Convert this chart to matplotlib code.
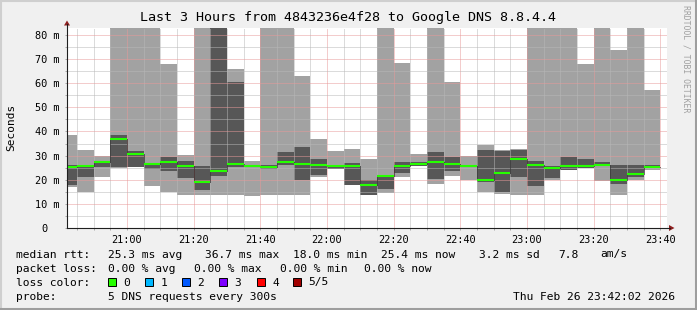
import matplotlib
matplotlib.use("Agg")
import matplotlib.pyplot as plt
from matplotlib.patches import Rectangle, Polygon
from matplotlib.lines import Line2D

W, H, DPI = 697, 310, 100
MONO = "DejaVu Sans Mono"

# time in minutes after 20:00, graph covers 20:42:02 .. 23:42:02
t_start = 42.03
t_end = 222.03
# one slot per probe round (300s), first one cut by the graph start
slot_edges = [t_start] + list(range(45, 225, 5))

# rtt in ms per slot: min, 2nd, median, 4th, max of the 5 pings
# (values above the top of the graph are clipped, they are just "big")
rtt_min = [16.9, 14.8, 21.0, 24.9, 25.2, 17.3, 15.1, 13.8, 13.6, 13.8, 13.6, 13.1,
           13.6, 13.8, 13.6, 21.0, 24.3, 17.7, 13.6, 14.5, 21.0, 25.6, 18.1, 21.4,
           19.8, 15.1, 14.0, 13.6, 13.6, 20.1, 23.9, 24.8, 19.4, 13.6, 20.1, 23.9]
rtt_p2 = [17.7, 21.0, 25.2, 25.2, 25.2, 24.3, 23.5, 20.7, 15.9, 21.4, 25.2, 25.2,
          24.3, 26.0, 20.1, 22.1, 24.5, 17.7, 13.6, 16.3, 22.7, 25.6, 20.3, 23.5,
          25.2, 19.1, 15.1, 21.0, 17.3, 20.7, 24.2, 24.8, 25.6, 18.1, 21.0, 25.2]
rtt_med = [25.2, 25.6, 27.2, 36.7, 30.7, 26.4, 27.2, 25.6, 18.9, 23.8, 26.7, 25.6,
           25.2, 27.2, 26.7, 26.0, 25.6, 25.6, 18.0, 21.4, 25.6, 26.7, 27.2, 26.4,
           25.6, 20.1, 22.7, 28.5, 26.0, 24.7, 25.6, 25.6, 26.0, 19.8, 22.3, 25.4]
rtt_p4 = [26.0, 26.0, 27.5, 38.7, 32.1, 27.0, 29.3, 27.7, 25.6, 95.0, 60.7, 26.0,
          26.1, 31.7, 33.5, 28.4, 25.8, 27.0, 20.1, 22.1, 27.5, 27.2, 31.7, 29.3,
          25.9, 32.5, 32.1, 32.5, 27.9, 25.9, 29.3, 28.4, 27.5, 26.0, 26.0, 26.0]
rtt_max = [38.7, 32.5, 29.7, 120.0, 120.0, 120.0, 67.8, 30.2, 120.0, 120.0, 66.1, 27.9,
           120.0, 120.0, 63.2, 36.7, 32.1, 32.9, 28.4, 120.0, 68.2, 30.8, 120.0, 60.7,
           29.7, 34.6, 32.4, 32.8, 120.0, 120.0, 120.0, 67.8, 120.0, 73.6, 120.0, 57.4]

x_major = [60, 80, 100, 120, 140, 160, 180, 200, 220]
x_labels = ["21:00", "21:20", "21:40", "22:00", "22:20", "22:40", "23:00", "23:20", "23:40"]
y_major = [0, 10, 20, 30, 40, 50, 60, 70, 80]
y_labels = ["0  ", "10 m", "20 m", "30 m", "40 m", "50 m", "60 m", "70 m", "80 m"]

loss_names = ["0", "1", "2", "3", "4", "5/5"]
loss_colors = ["#26ff00", "#00b8ff", "#0059ff", "#7e00ff", "#ff0000", "#a10000"]

LIGHT = "#a2a2a2"
DARK = "#575757"
GRID = "#b8b8b8"
MGRID = "#e89a9a"


def fx(x):
    return x / W


def fy(y):
    return 1 - y / H


fig = plt.figure(figsize=(W / DPI, H / DPI), dpi=DPI, facecolor="#f0f0f0")
ax = fig.add_axes([fx(67), fy(228), 600 / W, 200 / H])
ax.set_facecolor("white")
ax.set_xlim(t_start, t_end)
ax.set_ylim(0, 82.9)
for s in ax.spines.values():
    s.set_visible(False)

# smoke
ax.fill_between(slot_edges, rtt_min + [rtt_min[-1]], rtt_max + [rtt_max[-1]],
                step="post", color=LIGHT, linewidth=0, zorder=1)
ax.fill_between(slot_edges, rtt_p2 + [rtt_p2[-1]], rtt_p4 + [rtt_p4[-1]],
                step="post", color=DARK, linewidth=0, zorder=2)

# grid on top, like rrdtool does
dots = (0, (1, 1))
for m in range(45, 221, 5):
    is_major = m in x_major
    ax.axvline(m, color=MGRID if is_major else GRID, lw=0.72, ls=dots, zorder=3)
for v in range(5, 81, 5):
    ax.axhline(v, color=MGRID if v % 10 == 0 else GRID, lw=0.72, ls=dots, zorder=3)

# median line
ax.step(slot_edges, rtt_med + [rtt_med[-1]], where="post", color="black",
        lw=0.72, ls=dots, zorder=4)
ax.hlines(rtt_med, slot_edges[:-1], slot_edges[1:], color=loss_colors[0], lw=1.5, zorder=5)

ax.set_xticks(x_major)
ax.set_xticklabels(x_labels, family=MONO, fontsize=7.4)
ax.set_xticks(list(range(45, 221, 5)), minor=True)
ax.set_yticks(y_major)
ax.set_yticklabels(y_labels, family=MONO, fontsize=7.4)
ax.set_yticks(list(range(5, 81, 10)), minor=True)
ax.tick_params(which="both", length=1.5, width=0.72, color="#aaaaaa")
ax.tick_params(axis="x", which="major", pad=3.5)
ax.tick_params(axis="y", which="major", pad=3.6)

# axes with arrows
fig.add_artist(Line2D([fx(67), fx(67)], [fy(228), fy(24)], color="#1f1f1f", lw=0.8))
fig.add_artist(Line2D([fx(67), fx(670)], [fy(228), fy(228)], color="#1f1f1f", lw=0.8))
fig.add_artist(Polygon([(fx(64), fy(25.5)), (fx(70), fy(25.5)), (fx(67), fy(20.5))],
                       closed=True, color="#8f1f1f", lw=0))
fig.add_artist(Polygon([(fx(669), fy(225)), (fx(669), fy(231)), (fx(674.5), fy(228))],
                       closed=True, color="#8f1f1f", lw=0))

# frame shading
fig.add_artist(Line2D([0, 1], [fy(0.5), fy(0.5)], color="#cfcfcf", lw=1.5))
fig.add_artist(Line2D([fx(0.5), fx(0.5)], [0, 1], color="#cfcfcf", lw=1.5))
fig.add_artist(Line2D([0, 1], [fy(309), fy(309)], color="#9e9e9e", lw=2.2))
fig.add_artist(Line2D([fx(696), fx(696)], [0, 1], color="#9e9e9e", lw=2.2))

fig.text(0.5, fy(17), "Last 3 Hours from 4843236e4f28 to Google DNS 8.8.4.4",
         family=MONO, fontsize=9.6, ha="center", va="center")
fig.text(fx(11), fy(127), "Seconds", family=MONO, fontsize=8, rotation=90,
         ha="center", va="center")
fig.text(fx(686), fy(59), "RRDTOOL / TOBI OETIKER", family=MONO, fontsize=5.9,
         rotation=270, ha="center", va="center", color="#a0a0a0")

# legend block
LEG = dict(family=MONO, fontsize=8.1, va="baseline")
rows = [
    (257.5, [(16, "median rtt:"), (107.6, "25.3 ms avg"), (205.3, "36.7 ms max"),
             (293.3, "18.0 ms min"), (381.3, "25.4 ms now"), (479, "3.2 ms sd"),
             (558.7, "7.8"), (600, "am/s")]),
    (271.5, [(16, "packet loss:"), (107.6, "0.00 % avg"), (193.8, "0.00 % max"),
             (280, "0.00 % min"), (364.4, "0.00 % now")]),
    (285.5, [(16, "loss color:")]),
    (299.5, [(16, "probe:"), (107.6, "5 DNS requests every 300s"),
             (513.3, "Thu Feb 26 23:42:02 2026")]),
]
for y, parts in rows:
    for x, s in parts:
        fig.text(fx(x), fy(y), s, **LEG)

box_x = [108, 145.3, 182, 219, 257, 293]
for bx, name, col in zip(box_x, loss_names, loss_colors):
    fig.add_artist(Rectangle((fx(bx), fy(286)), 7.5 / W, 8 / H, facecolor=col,
                             edgecolor="black", lw=0.7))
    fig.text(fx(bx + 15.5), fy(285.5), name, **LEG)

fig.savefig("out.png", dpi=DPI, facecolor=fig.get_facecolor())
